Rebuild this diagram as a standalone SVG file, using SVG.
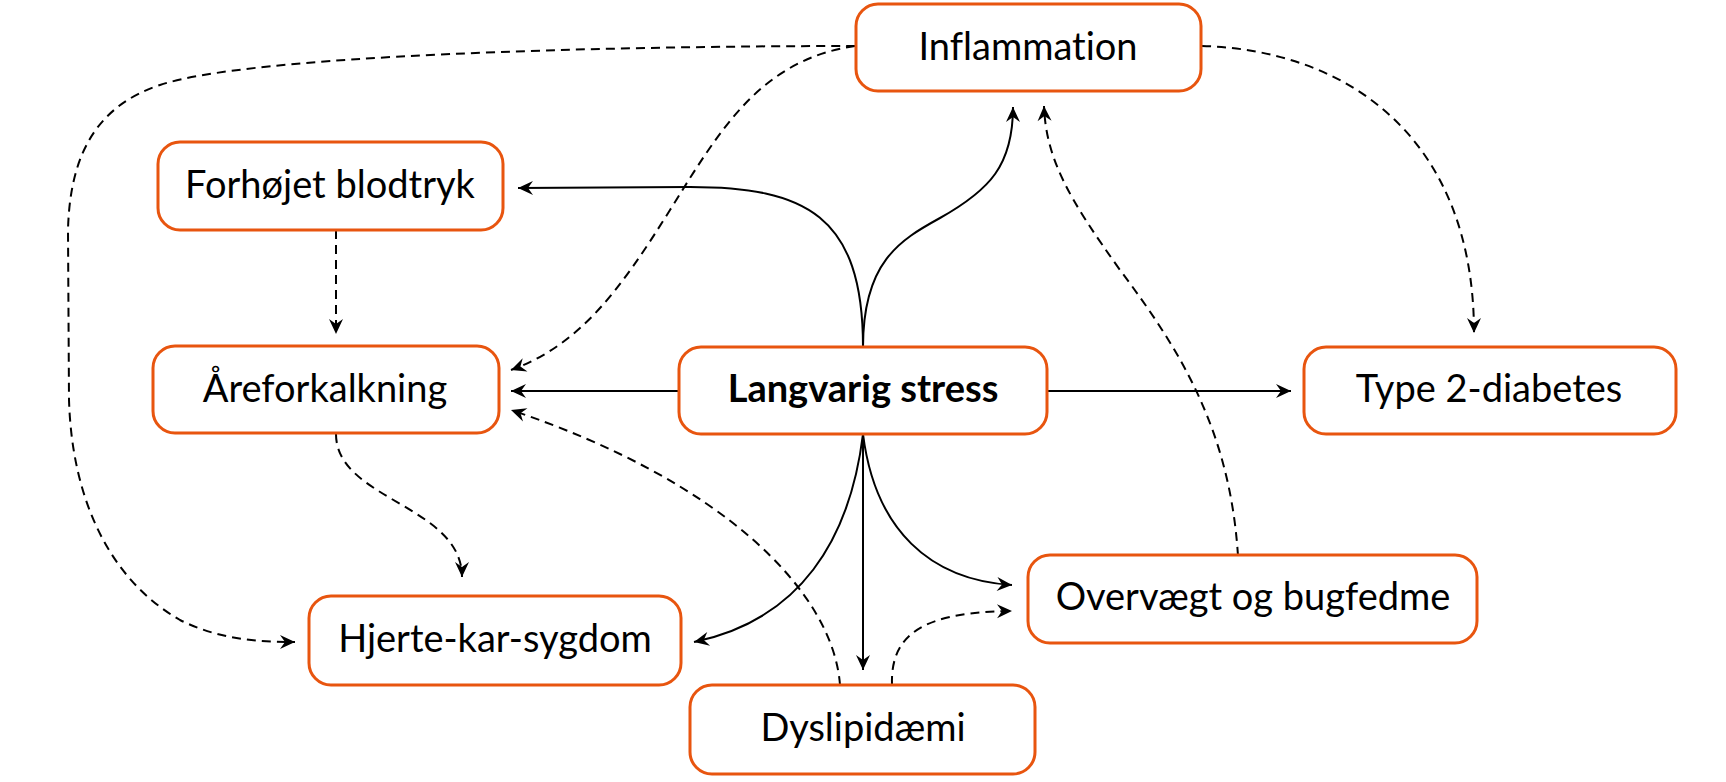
<svg xmlns="http://www.w3.org/2000/svg" width="1726" height="782" viewBox="0 0 1726 782">
<style>
.box{fill:#fff;stroke:#E8550F;stroke-width:3}
.lbl{font-family:Lato,"Open Sans","Liberation Sans",sans-serif;font-size:38px;fill:#000;text-anchor:middle;font-variant-ligatures:none}
.bold{font-weight:bold}
.c{fill:none;stroke:#000;stroke-width:2}
.d{stroke-dasharray:9 6}
</style>
<defs>
<marker id="ah" viewBox="-16 -8 17 16" refX="0" refY="0" markerWidth="17" markerHeight="16" markerUnits="userSpaceOnUse" orient="auto">
<path d="M0,0 L-15,-7 L-10,0 L-15,7 Z" fill="#000"/>
</marker>
</defs>
<rect width="1726" height="782" fill="#fff"/>
<g id="connectors">
<path class="c" marker-end="url(#ah)" d="M863,347 C863,215 805,187 690,187 L518,188"/>
<path class="c" marker-end="url(#ah)" d="M863,347 C863,262 900,240 940,218 C990,190 1013,165 1013,107"/>
<path class="c" marker-end="url(#ah)" d="M679,391 L511,391"/>
<path class="c" marker-end="url(#ah)" d="M1047,391 L1291,391"/>
<path class="c" marker-end="url(#ah)" d="M863,434 C850,540 800,620 694,642"/>
<path class="c" marker-end="url(#ah)" d="M863,434 L863,670"/>
<path class="c" marker-end="url(#ah)" d="M863,434 C875,530 930,580 1012,585"/>
<path class="c d" marker-end="url(#ah)" d="M855,46 C600,46 250,55 160,85 C100,105 70,150 68,230 L69,400 C72,500 110,580 180,620 C220,640 260,642 295,642"/>
<path class="c d" marker-end="url(#ah)" d="M855,46 C760,60 720,130 670,210 C620,290 580,345 511,370"/>
<path class="c d" marker-end="url(#ah)" d="M1202,46 C1350,50 1474,140 1474,333"/>
<path class="c d" marker-end="url(#ah)" d="M336,230 L336,334"/>
<path class="c d" marker-end="url(#ah)" d="M336,434 C336,500 462,505 462,577"/>
<path class="c d" marker-end="url(#ah)" d="M840,685 C833,590 720,480 511,410"/>
<path class="c d" marker-end="url(#ah)" d="M892,685 C890,630 930,612 1012,611"/>
<path class="c d" marker-end="url(#ah)" d="M1238,556 C1230,430 1180,350 1120,270 C1070,200 1046,160 1044,106"/>
</g>
<g id="inflammation"><rect class="box" x="856" y="4" width="345" height="87" rx="22"/><text class="lbl" x="1028" y="60">Inflammation</text></g>
<g id="forhojet"><rect class="box" x="158" y="142" width="345" height="88" rx="22"/><text class="lbl" x="330" y="198">Forhøjet blodtryk</text></g>
<g id="areforkalkning"><rect class="box" x="153" y="346" width="346" height="87" rx="22"/><text class="lbl" x="325" y="402">Åreforkalkning</text></g>
<g id="stress"><rect class="box" x="679" y="347" width="368" height="87" rx="22"/><text class="lbl bold" x="863" y="402">Langvarig stress</text></g>
<g id="diabetes"><rect class="box" x="1304" y="347" width="372" height="87" rx="22"/><text class="lbl" x="1489" y="402">Type 2-diabetes</text></g>
<g id="hjerte"><rect class="box" x="309" y="596" width="372" height="89" rx="22"/><text class="lbl" x="495" y="652">Hjerte-kar-sygdom</text></g>
<g id="overvaegt"><rect class="box" x="1028" y="555" width="449" height="88" rx="22"/><text class="lbl" x="1253" y="610">Overvægt og bugfedme</text></g>
<g id="dyslipidaemi"><rect class="box" x="690" y="685" width="345" height="89" rx="22"/><text class="lbl" x="863" y="741">Dyslipidæmi</text></g>
</svg>
